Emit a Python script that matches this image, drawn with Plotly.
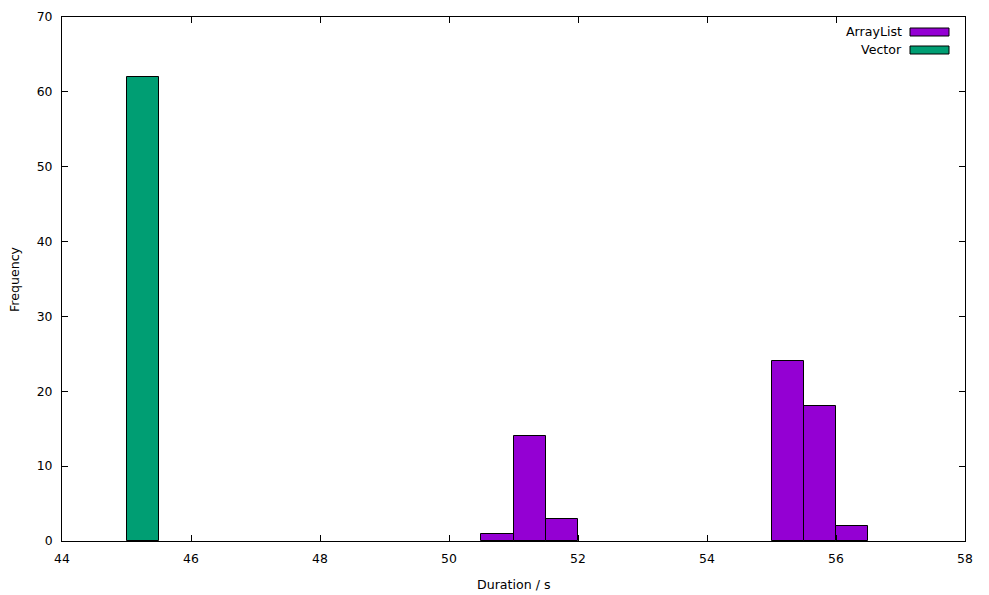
import plotly.graph_objects as go

bin_width = 0.5
arraylist_bins = [50.5, 51.0, 51.5, 55.0, 55.5, 56.0]
arraylist_counts = [1, 14, 3, 24, 18, 2]
vector_bins = [45.0]
vector_counts = [62]

series = [
    ("ArrayList", arraylist_bins, arraylist_counts, "#9400D3"),
    ("Vector", vector_bins, vector_counts, "#009E73"),
]
x_title = "Duration / s"
y_title = "Frequency"

W, H = 989, 595
L, R, T, B = 62, 24, 17, 54
pw = W - L - R
ph = H - T - B
TXT = 12.6

fig = go.Figure()
for name, bins, counts, color in series:
    fig.add_trace(go.Bar(
        x=[b + bin_width / 2 for b in bins], y=counts, width=bin_width,
        name=name, marker=dict(color=color, line=dict(color="black", width=1)),
        showlegend=False,
    ))

def px_x(v):
    return (v - L) / pw

def px_y(v):
    return (H - B - v) / ph

# gnuplot-style legend: text right-aligned, sample box on the right
for i, (name, bins, counts, color) in enumerate(series):
    yc = 32 + 18 * i
    fig.add_annotation(x=px_x(904), y=px_y(yc), xref="paper", yref="paper", text=name,
                       showarrow=False, xanchor="right", yanchor="middle",
                       font=dict(size=TXT, color="black"))
    fig.add_shape(type="rect", xref="paper", yref="paper",
                  x0=px_x(910), x1=px_x(949), y0=px_y(yc + 4), y1=px_y(yc - 4),
                  fillcolor=color, line=dict(color="black", width=1))

# axis titles
fig.add_annotation(x=px_x(513.5), y=px_y(584), xref="paper", yref="paper", text=x_title,
                   showarrow=False, xanchor="center", yanchor="middle", font=dict(size=TXT))
fig.add_annotation(x=px_x(14), y=px_y(279), xref="paper", yref="paper", text=y_title,
                   showarrow=False, xanchor="center", yanchor="middle", textangle=-90,
                   font=dict(size=TXT))

fig.update_layout(
    width=W, height=H,
    margin=dict(l=L, r=R, t=T, b=B, autoexpand=False),
    plot_bgcolor="white", paper_bgcolor="white",
    font=dict(family="DejaVu Sans, Liberation Sans, Arial", size=12.4, color="black"),
    bargap=0,
    xaxis=dict(range=[44, 58], dtick=2, tick0=44, showgrid=False, zeroline=False,
               ticks="inside", ticklen=6, tickcolor="black", showline=True,
               linecolor="black", linewidth=1, mirror="ticks", ticklabelstandoff=6,
               automargin=False),
    yaxis=dict(range=[0, 70], dtick=10, showgrid=False, zeroline=False,
               ticks="inside", ticklen=6, tickcolor="black", showline=True,
               linecolor="black", linewidth=1, mirror="ticks", ticklabelstandoff=6,
               automargin=False),
)

fig.write_html("out.html", config={"displayModeBar": False})
with open("out.html", "r", encoding="utf-8") as f:
    html = f.read()
html = html.replace("<head>", "<head><style>html,body{margin:0;padding:0;overflow:hidden;}</style>", 1)
with open("out.html", "w", encoding="utf-8") as f:
    f.write(html)
